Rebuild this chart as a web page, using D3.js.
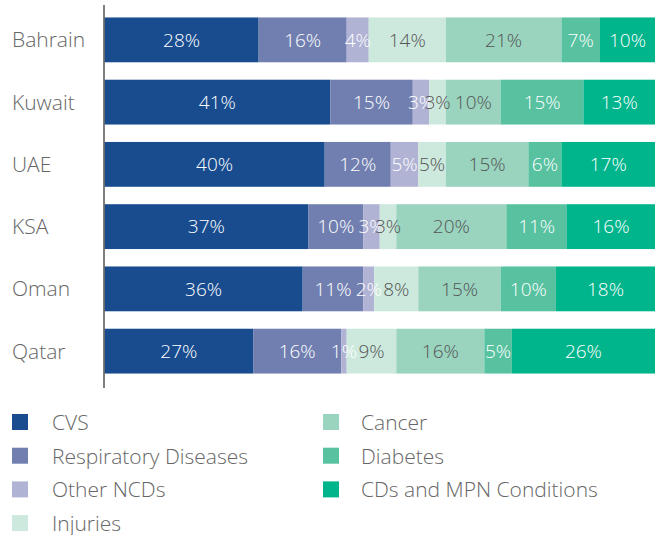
<!DOCTYPE html>
<html>
<head>
<meta charset="utf-8">
<script src="https://cdn.jsdelivr.net/npm/d3@7"></script>
<style>
  html, body { margin: 0; padding: 0; background: #fff; }
  svg text { font-family: "Open Sans", "Noto Sans", sans-serif; font-weight: 300; }
</style>
</head>
<body>
<svg id="chart" width="658" height="535"></svg>
<script>
// Share of deaths by cause, per country (percent)
const countries = ["Bahrain", "Kuwait", "UAE", "KSA", "Oman", "Qatar"];
const causes = ["CVS", "Respiratory Diseases", "Other NCDs", "Injuries", "Cancer", "Diabetes", "CDs and MPN Conditions"];
const cvs         = [28, 41, 40, 37, 36, 27];
const respiratory = [16, 15, 12, 10, 11, 16];
const otherNcds   = [4, 3, 5, 3, 2, 1];
const injuries    = [14, 3, 5, 3, 8, 9];
const cancer      = [21, 10, 15, 20, 15, 16];
const diabetes    = [7, 15, 6, 11, 10, 5];
const cdsMpn      = [10, 13, 17, 16, 18, 26];
const colors = ["#184c8f", "#717fb0", "#b0b3d4", "#cde9dd", "#9ad4bf", "#57c1a0", "#00b48c"];
const labelColors = ["#ffffff", "#ffffff", "#ffffff", "#555555", "#555555", "#ffffff", "#ffffff"];

const seriesValues = [cvs, respiratory, otherNcds, injuries, cancer, diabetes, cdsMpn];
const rows = countries.map((c, i) => {
  const r = { country: c };
  causes.forEach((k, j) => r[k] = seriesValues[j][i]);
  return r;
});
const stacked = d3.stack().keys(causes)(rows);

const svg = d3.select("#chart");
const x = d3.scaleLinear().domain([0, 100]).range([104.5, 655]);
const y = d3.scaleBand().domain(countries).range([5, 386]).paddingInner(0.28).paddingOuter(0.2);
const color = d3.scaleOrdinal().domain(causes).range(colors);
const labelColor = d3.scaleOrdinal().domain(causes).range(labelColors);

// stacked bars
const layer = svg.append("g").selectAll("g").data(stacked).join("g")
  .attr("fill", d => color(d.key));
layer.selectAll("rect").data(d => d).join("rect")
  .attr("x", d => x(d[0]))
  .attr("y", d => y(d.data.country))
  .attr("width", d => x(d[1]) - x(d[0]))
  .attr("height", y.bandwidth());

// value labels
const labels = svg.append("g").selectAll("g").data(stacked).join("g")
  .attr("fill", d => labelColor(d.key));
labels.selectAll("text").data(d => d).join("text")
  .attr("x", d => (x(d[0]) + x(d[1])) / 2)
  .attr("y", d => y(d.data.country) + y.bandwidth() / 2)
  .attr("dy", "0.36em")
  .attr("text-anchor", "middle")
  .attr("font-size", 19)
  .text(d => (d[1] - d[0]) + "%");

// category axis
const axis = svg.append("g").attr("transform", "translate(104,0)")
  .call(d3.axisLeft(y).tickSize(0).tickPadding(0));
axis.select(".domain").attr("stroke", "#555").attr("stroke-width", 1.5)
  .attr("d", "M0,5V388");
axis.selectAll(".tick text")
  .attr("x", -92)
  .attr("dy", "0.36em")
  .attr("text-anchor", "start")
  .attr("fill", "#666")
  .attr("font-size", 21)
  .style("font-family", '"Open Sans", "Noto Sans", sans-serif')
  .style("font-weight", 300);

// legend
const legendCols = [[0, 1, 2, 3], [4, 5, 6]];
const legend = svg.append("g");
legendCols.forEach((col, ci) => {
  col.forEach((k, ri) => {
    const gx = ci === 0 ? 12 : 323;
    const gy = 414 + ri * 33.7;
    const g = legend.append("g").attr("transform", `translate(${gx},${gy})`);
    g.append("rect").attr("width", 16).attr("height", 16).attr("fill", colors[k]);
    g.append("text").attr("x", ci === 0 ? 40 : 38).attr("y", 16)
      .attr("fill", "#666").attr("font-size", 21).text(causes[k]);
  });
});
</script>
</body>
</html>
